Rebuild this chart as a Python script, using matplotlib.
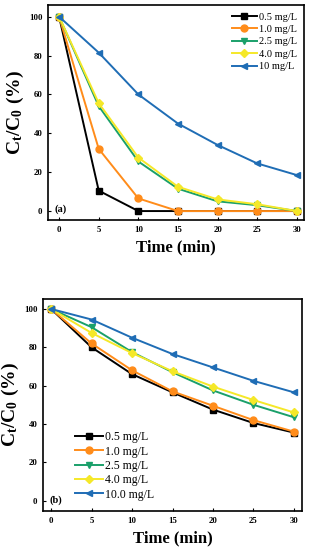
import matplotlib
matplotlib.use('Agg')
from matplotlib import pyplot as plt

plt.rcParams['font.family'] = ['Liberation Serif', 'DejaVu Serif']
plt.rcParams['font.weight'] = 'bold'
plt.rcParams['mathtext.fontset'] = 'custom'
plt.rcParams['mathtext.rm'] = 'Liberation Serif:bold'
plt.rcParams['mathtext.it'] = 'Liberation Serif:bold'
plt.rcParams['mathtext.bf'] = 'Liberation Serif:bold'

time = [0, 5, 10, 15, 20, 25, 30]

# panel (a)
a_labels = ['0.5 mg/L', '1.0 mg/L', '2.5 mg/L', '4.0 mg/L', '10 mg/L']
a_05 = [100, 10.5, 0, 0, 0, 0, 0]
a_10 = [100, 32, 6.5, 0, 0, 0, 0]
a_25 = [100, 54, 25.5, 11.5, 5, 3, 0]
a_40 = [100, 55.5, 27.5, 12.5, 6, 3.5, 0]
a_100 = [100, 81.5, 60, 45, 34, 24.5, 18.5]

# panel (b)
b_labels = ['0.5 mg/L', '1.0 mg/L', '2.5 mg/L', '4.0 mg/L', '10.0 mg/L']
b_05 = [100, 80, 66, 56.5, 47.5, 40.5, 35.5]
b_10 = [100, 82, 68, 57, 49.5, 42, 36]
b_25 = [100, 90.5, 77.5, 67, 57.5, 50, 43.5]
b_40 = [100, 87.5, 77, 67.5, 59.5, 52.5, 46]
b_100 = [100, 94.5, 85, 76.5, 69.5, 62.5, 56.5]

colors = ['#000000', '#FF8C1A', '#1AA06A', '#F5E829', '#1F6DB5']
markers = ['s', 'o', 'v', 'D', '<']
msizes = [4, 5, 5, 4, 5]

fig = plt.figure(figsize=(3.14, 5.5), dpi=100)
W, H = 314, 550
ax_a = fig.add_axes([48 / W, 1 - 220 / H, (304 - 48) / W, (220 - 5) / H])
ax_b = fig.add_axes([43 / W, 1 - 511 / H, (302 - 43) / W, (511 - 299) / H])


def draw_panel(ax, series, labels, tag, legend_loc, legend_size, spacing):
    for i, ys in enumerate(series):
        ax.plot(time, ys, color=colors[i], marker=markers[i], markersize=msizes[i],
                linewidth=1.4, label=labels[i])
    ax.set_xticks([0, 5, 10, 15, 20, 25, 30])
    ax.set_yticks([0, 20, 40, 60, 80, 100])
    ax.tick_params(direction='in', labelsize=6.3, length=2.5, width=0.8, pad=4)
    for lab in ax.get_xticklabels() + ax.get_yticklabels():
        lab.set_fontweight('bold')
    for s in ax.spines.values():
        s.set_linewidth(1.2)
    ax.set_xlabel('Time (min)', fontsize=12, fontweight='bold', labelpad=4)
    ax.set_ylabel(r'C$_\mathrm{t}$/C$_0$ (%)', fontsize=14, fontweight='bold', labelpad=2)
    ax.text(0.025, 0.04, tag, transform=ax.transAxes, fontsize=7.5, fontweight='bold')
    ax.legend(loc=legend_loc, frameon=False, prop={'size': legend_size, 'weight': 'normal'},
              handlelength=2.4, handletextpad=0.2, labelspacing=spacing, borderaxespad=0.3)


draw_panel(ax_a, [a_05, a_10, a_25, a_40, a_100], a_labels, '(a)', 'upper right', 7.5, 0.3)
ax_a.set_xlim(-1.4, 30.9)
ax_a.set_ylim(-4.6, 106)

draw_panel(ax_b, [b_05, b_10, b_25, b_40, b_100], b_labels, '(b)', 'lower left', 8.5, 0.2)
ax_b.set_xlim(-1, 31)
ax_b.set_ylim(-5.4, 105.2)
leg = ax_b.get_legend()
leg.set_bbox_to_anchor((0.09, 0.01))

fig.savefig('out.png', dpi=100)
